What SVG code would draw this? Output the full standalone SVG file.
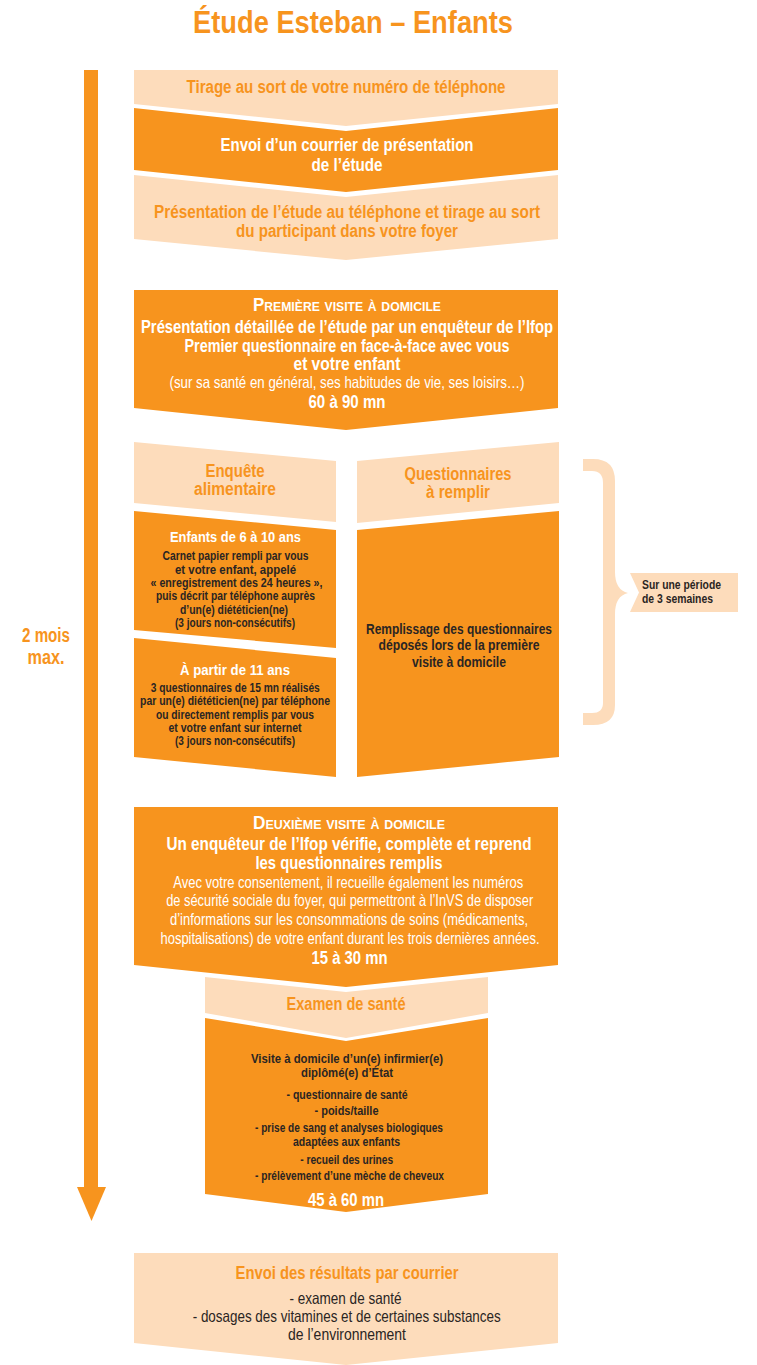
<svg xmlns="http://www.w3.org/2000/svg" width="757" height="1365" viewBox="0 0 757 1365">
<style>
text{font-family:"Liberation Sans Narrow","Liberation Sans",Arial,sans-serif;text-anchor:middle;font-weight:bold}
.dk{fill:#F7941E}
.lt{fill:#FDDCBB}
.to{fill:#F7941E}
.tw{fill:#FFFFFF}
.tb{fill:#2A2523}
.h{font-size:17.5px}
.s{font-size:12.5px}
.m{font-size:15px}
.sm{font-size:13px}
.r{font-weight:normal;font-size:16.5px}
.sc{font-variant:small-caps;font-size:18px}
</style>
<rect width="757" height="1365" fill="#FFFFFF"/>
<text class="to" x="353" y="33" style="font-size:32px" textLength="320" lengthAdjust="spacingAndGlyphs">Étude Esteban – Enfants</text>
<text class="to" x="46" y="642" style="font-size:20px" textLength="48" lengthAdjust="spacingAndGlyphs">2 mois</text>
<text class="to" x="46" y="664" style="font-size:20px" textLength="37" lengthAdjust="spacingAndGlyphs">max.</text>

<g id="connectors">
  <rect x="84" y="70" width="14" height="1118" fill="#F7941E"/>
  <polygon points="77,1187 106,1187 91.5,1221" fill="#F7941E"/>
</g>

<g id="brace">
  <path class="lt" d="M583,459 H593 Q615,459 615,481 V572 Q615,590 628,593 Q615,596 615,614 V705 Q615,725 593,725 H583 V713 H592 Q603,713 603,703 V483 Q603,471 592,471 H583 Z"/>
</g>

<g id="tirage">
  <polygon class="lt" points="134,70 558,70 558,104 346,126 134,104"/>
  <text class="to h" x="346" y="93" textLength="319" lengthAdjust="spacingAndGlyphs">Tirage au sort de votre numéro de téléphone</text>
</g>
<g id="courrier">
  <polygon class="dk" points="134,108 346,131 558,108 558,170 346,192 134,170"/>
  <text class="tw h" x="347" y="151" textLength="253" lengthAdjust="spacingAndGlyphs">Envoi d’un courrier de présentation</text>
  <text class="tw h" x="347" y="171" textLength="71" lengthAdjust="spacingAndGlyphs">de l’étude</text>
</g>
<g id="presentation">
  <polygon class="lt" points="134,175 346,197 558,175 558,239 346,260 134,239"/>
  <text class="to h" x="347" y="218" textLength="386" lengthAdjust="spacingAndGlyphs">Présentation de l’étude au téléphone et tirage au sort</text>
  <text class="to h" x="347" y="237" textLength="222" lengthAdjust="spacingAndGlyphs">du participant dans votre foyer</text>
</g>
<g id="visite1">
  <polygon class="dk" points="134,290 558,290 558,408 346,430 134,408"/>
  <text class="tw sc" x="347" y="311" textLength="188" lengthAdjust="spacingAndGlyphs">Première visite à domicile</text>
  <text class="tw h" x="347" y="333" textLength="412" lengthAdjust="spacingAndGlyphs">Présentation détaillée de l’étude par un enquêteur de l’Ifop</text>
  <text class="tw h" x="347" y="352" textLength="325" lengthAdjust="spacingAndGlyphs">Premier questionnaire en face-à-face avec vous</text>
  <text class="tw h" x="347" y="370" textLength="107" lengthAdjust="spacingAndGlyphs">et votre enfant</text>
  <text class="tw r" x="347" y="388" textLength="355" lengthAdjust="spacingAndGlyphs">(sur sa santé en général, ses habitudes de vie, ses loisirs…)</text>
  <text class="tw h" x="347" y="408" textLength="77" lengthAdjust="spacingAndGlyphs">60 à 90 mn</text>
</g>
<g id="enquete">
  <polygon class="lt" points="134,442 336,461 336,522 134,503"/>
  <text class="to h" x="235" y="477" textLength="59" lengthAdjust="spacingAndGlyphs">Enquête</text>
  <text class="to h" x="235" y="495" textLength="82" lengthAdjust="spacingAndGlyphs">alimentaire</text>
</g>
<g id="enfants610">
  <polygon class="dk" points="134,511 336,530 336,648 134,630"/>
  <text class="tw m" x="235.5" y="542" textLength="131" lengthAdjust="spacingAndGlyphs">Enfants de 6 à 10 ans</text>
  <text class="tb s" x="235.5" y="559.5" textLength="146" lengthAdjust="spacingAndGlyphs">Carnet papier rempli par vous</text>
  <text class="tb s" x="235.5" y="573.5" textLength="121" lengthAdjust="spacingAndGlyphs">et votre enfant, appelé</text>
  <text class="tb s" x="236.5" y="587" textLength="172" lengthAdjust="spacingAndGlyphs">« enregistrement des 24 heures »,</text>
  <text class="tb s" x="235.5" y="600" textLength="159" lengthAdjust="spacingAndGlyphs">puis décrit par téléphone auprès</text>
  <text class="tb s" x="234" y="613.5" textLength="108" lengthAdjust="spacingAndGlyphs">d’un(e) diététicien(ne)</text>
  <text class="tb s" x="235" y="627" textLength="120" lengthAdjust="spacingAndGlyphs">(3 jours non-consécutifs)</text>
</g>
<g id="enfants11">
  <polygon class="dk" points="134,638 336,658 336,777 134,757"/>
  <text class="tw m" x="235" y="674.5" textLength="110" lengthAdjust="spacingAndGlyphs">À partir de 11 ans</text>
  <text class="tb s" x="235.3" y="691.5" textLength="169" lengthAdjust="spacingAndGlyphs">3 questionnaires de 15 mn réalisés</text>
  <text class="tb s" x="235" y="705" textLength="190" lengthAdjust="spacingAndGlyphs">par un(e) diététicien(ne) par téléphone</text>
  <text class="tb s" x="235" y="718.5" textLength="158" lengthAdjust="spacingAndGlyphs">ou directement remplis par vous</text>
  <text class="tb s" x="235" y="732" textLength="133" lengthAdjust="spacingAndGlyphs">et votre enfant sur internet</text>
  <text class="tb s" x="235" y="745" textLength="120" lengthAdjust="spacingAndGlyphs">(3 jours non-consécutifs)</text>
</g>
<g id="questionnaires">
  <polygon class="lt" points="357,461 559,442 559,503 357,523"/>
  <text class="to h" x="458" y="479.5" textLength="107" lengthAdjust="spacingAndGlyphs">Questionnaires</text>
  <text class="to h" x="458" y="497.5" textLength="64" lengthAdjust="spacingAndGlyphs">à remplir</text>
</g>
<g id="remplissage">
  <polygon class="dk" points="357,530 559,511 559,757 357,777"/>
  <text class="tb m" x="459" y="633.5" textLength="186" lengthAdjust="spacingAndGlyphs">Remplissage des questionnaires</text>
  <text class="tb m" x="459" y="650" textLength="161" lengthAdjust="spacingAndGlyphs">déposés lors de la première</text>
  <text class="tb m" x="459" y="667" textLength="94" lengthAdjust="spacingAndGlyphs">visite à domicile</text>
</g>
<g id="periode">
  <polygon class="lt" points="630,573 738,573 738,612 630,612 639,592.5"/>
  <text class="tb sm" x="642" y="588.5" style="text-anchor:start" textLength="79" lengthAdjust="spacingAndGlyphs">Sur une période</text>
  <text class="tb sm" x="642" y="602.5" style="text-anchor:start" textLength="71" lengthAdjust="spacingAndGlyphs">de 3 semaines</text>
</g>
<g id="visite2">
  <polygon class="dk" points="134,807 558,807 558,965 346,987 134,965"/>
  <text class="tw sc" x="349" y="828.5" textLength="192" lengthAdjust="spacingAndGlyphs">Deuxième visite à domicile</text>
  <text class="tw h" x="349" y="850" textLength="365" lengthAdjust="spacingAndGlyphs">Un enquêteur de l’Ifop vérifie, complète et reprend</text>
  <text class="tw h" x="349" y="868.5" textLength="187" lengthAdjust="spacingAndGlyphs">les questionnaires remplis</text>
  <text class="tw r" x="348.3" y="887.5" textLength="350" lengthAdjust="spacingAndGlyphs">Avec votre consentement, il recueille également les numéros</text>
  <text class="tw r" x="349.7" y="906" textLength="367" lengthAdjust="spacingAndGlyphs">de sécurité sociale du foyer, qui permettront à l’InVS de disposer</text>
  <text class="tw r" x="349" y="925" textLength="358" lengthAdjust="spacingAndGlyphs">d’informations sur les consommations de soins (médicaments,</text>
  <text class="tw r" x="350" y="943.5" textLength="379" lengthAdjust="spacingAndGlyphs">hospitalisations) de votre enfant durant les trois dernières années.</text>
  <text class="tw h" x="349.5" y="964" textLength="76" lengthAdjust="spacingAndGlyphs">15 à 30 mn</text>
</g>
<g id="examen">
  <polygon class="lt" points="205,977 346,992 488,977 488,1013 346,1038 205,1013"/>
  <text class="to h" x="346" y="1010" textLength="119" lengthAdjust="spacingAndGlyphs">Examen de santé</text>
</g>
<g id="infirmier">
  <polygon class="dk" points="205,1018 346,1041 488,1018 488,1194 346,1212 205,1194"/>
  <text class="tb sm" x="347" y="1062.5" textLength="192" lengthAdjust="spacingAndGlyphs">Visite à domicile d’un(e) infirmier(e)</text>
  <text class="tb sm" x="347" y="1077" textLength="92" lengthAdjust="spacingAndGlyphs">diplômé(e) d’État</text>
  <text class="tb sm" x="347" y="1098.5" textLength="121" lengthAdjust="spacingAndGlyphs">- questionnaire de santé</text>
  <text class="tb sm" x="346.5" y="1114.5" textLength="64" lengthAdjust="spacingAndGlyphs">- poids/taille</text>
  <text class="tb sm" x="349" y="1132" textLength="188" lengthAdjust="spacingAndGlyphs">- prise de sang et analyses biologiques</text>
  <text class="tb sm" x="346.5" y="1146" textLength="107" lengthAdjust="spacingAndGlyphs">adaptées aux enfants</text>
  <text class="tb sm" x="346.7" y="1163.5" textLength="93" lengthAdjust="spacingAndGlyphs">- recueil des urines</text>
  <text class="tb sm" x="349.5" y="1180" textLength="189" lengthAdjust="spacingAndGlyphs">- prélèvement d’une mèche de cheveux</text>
  <text class="tw h" x="346" y="1206" textLength="76" lengthAdjust="spacingAndGlyphs">45 à 60 mn</text>
</g>
<g id="resultats">
  <polygon class="lt" points="134,1253 558,1253 558,1343 346,1365 134,1343"/>
  <text class="to h" x="347" y="1278.5" textLength="223" lengthAdjust="spacingAndGlyphs">Envoi des résultats par courrier</text>
  <text class="tb r" x="345.5" y="1303.5" textLength="112" lengthAdjust="spacingAndGlyphs">- examen de santé</text>
  <text class="tb r" x="346.7" y="1322" textLength="308" lengthAdjust="spacingAndGlyphs">- dosages des vitamines et de certaines substances</text>
  <text class="tb r" x="347" y="1340" textLength="118" lengthAdjust="spacingAndGlyphs">de l’environnement</text>
</g>
</svg>
